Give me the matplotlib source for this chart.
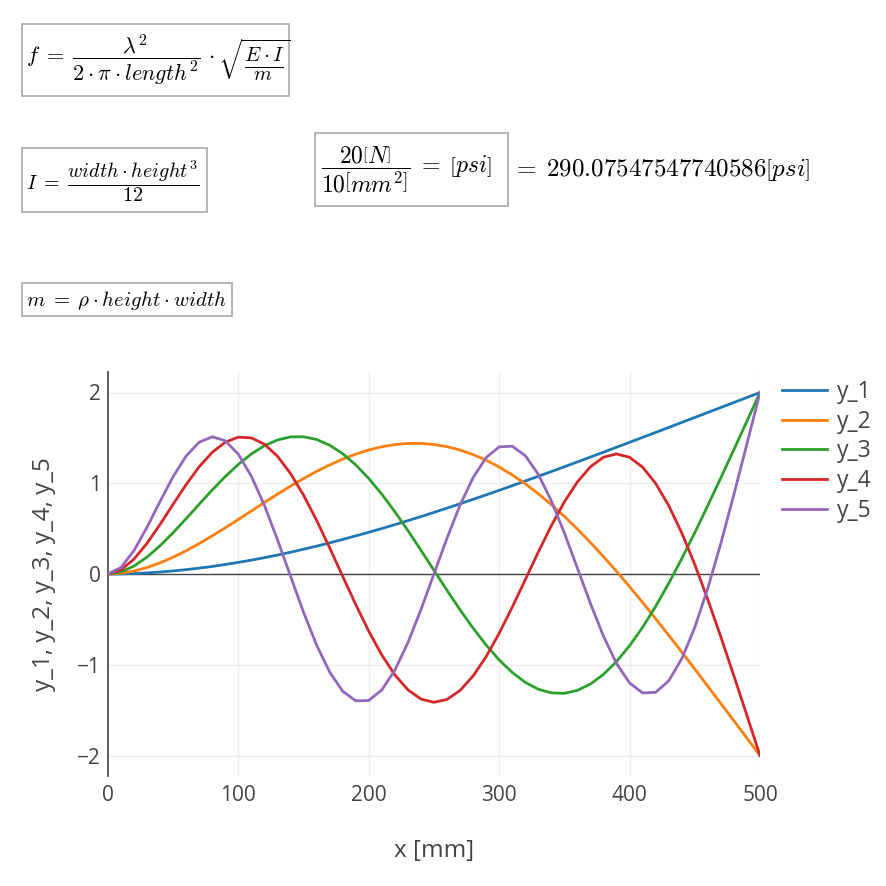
import matplotlib
matplotlib.use("Agg")
import matplotlib.pyplot as plt
from matplotlib import patches

# beam mode shapes, sampled every 10 mm
x_mm = list(range(0, 510, 10))

y_1 = [0.000, 0.001, 0.006, 0.012, 0.022, 0.034, 0.048, 0.065, 0.083, 0.105,
       0.128, 0.153, 0.180, 0.209, 0.240, 0.273, 0.307, 0.343, 0.381, 0.420,
       0.460, 0.501, 0.544, 0.588, 0.633, 0.679, 0.726, 0.774, 0.823, 0.872,
       0.922, 0.973, 1.025, 1.077, 1.129, 1.182, 1.235, 1.289, 1.342, 1.397,
       1.451, 1.506, 1.560, 1.615, 1.670, 1.725, 1.780, 1.835, 1.890, 1.945,
       2.000]
y_2 = [0.000, 0.009, 0.033, 0.072, 0.123, 0.185, 0.257, 0.336, 0.421, 0.510,
       0.602, 0.695, 0.789, 0.880, 0.968, 1.052, 1.131, 1.202, 1.266, 1.321,
       1.367, 1.402, 1.426, 1.439, 1.439, 1.427, 1.403, 1.366, 1.316, 1.254,
       1.179, 1.092, 0.994, 0.884, 0.764, 0.634, 0.495, 0.347, 0.191, 0.029,
       -0.140, -0.314, -0.493, -0.675, -0.860, -1.047, -1.237, -1.427, -1.618, -1.809,
       -2.000]
y_3 = [0.000, 0.023, 0.088, 0.187, 0.312, 0.456, 0.611, 0.770, 0.927, 1.075,
       1.209, 1.323, 1.414, 1.477, 1.511, 1.512, 1.482, 1.419, 1.326, 1.202,
       1.052, 0.879, 0.686, 0.479, 0.262, 0.040, -0.181, -0.395, -0.597, -0.783,
       -0.947, -1.085, -1.194, -1.270, -1.310, -1.315, -1.282, -1.212, -1.106, -0.964,
       -0.790, -0.587, -0.356, -0.103, 0.169, 0.456, 0.755, 1.061, 1.372, 1.685,
       2.000]
y_4 = [0.000, 0.045, 0.165, 0.340, 0.548, 0.770, 0.987, 1.183, 1.342, 1.453,
       1.508, 1.500, 1.430, 1.297, 1.107, 0.868, 0.591, 0.288, -0.026, -0.337,
       -0.631, -0.893, -1.112, -1.276, -1.378, -1.414, -1.382, -1.283, -1.123, -0.910,
       -0.653, -0.366, -0.063, 0.242, 0.533, 0.795, 1.015, 1.182, 1.287, 1.323,
       1.286, 1.177, 0.998, 0.754, 0.453, 0.104, -0.282, -0.694, -1.123, -1.560,
       -2.000]
y_5 = [0.000, 0.072, 0.260, 0.517, 0.802, 1.074, 1.301, 1.453, 1.512, 1.468,
       1.319, 1.076, 0.754, 0.377, -0.025, -0.423, -0.784, -1.081, -1.292, -1.398,
       -1.393, -1.277, -1.059, -0.756, -0.393, 0.002, 0.396, 0.760, 1.063, 1.283,
       1.401, 1.408, 1.304, 1.098, 0.806, 0.451, 0.064, -0.326, -0.686, -0.986,
       -1.201, -1.311, -1.304, -1.177, -0.934, -0.588, -0.156, 0.339, 0.877, 1.435,
       2.000]

series = [y_1, y_2, y_3, y_4, y_5]
names = ["y_1", "y_2", "y_3", "y_4", "y_5"]
colors = ["#1f77b4", "#ff7f0e", "#2ca02c", "#d62728", "#9467bd"]

x_ticks = [0, 100, 200, 300, 400, 500]
y_ticks = [-2, -1, 0, 1, 2]
y_tick_labels = ["\u22122", "\u22121", "0", "1", "2"]

formula_f = r"$f\;=\;\dfrac{\lambda^2}{2\cdot\pi\cdot length^2}\,\cdot$"
formula_root = r"$\sqrt{\frac{E\cdot I}{m}}$"
formula_I = r"$I\;=\;\dfrac{width\cdot height^3}{12}$"
formula_psi = r"$\dfrac{20\left[N\right]}{10\left[mm^2\right]}\;=\;\left[psi\right]$"
result_psi = r"$=\;290.07547547740586\left[psi\right]$"
formula_m = r"$m\;=\;\rho\cdot height\cdot width$"

plt.rcParams["mathtext.fontset"] = "cm"
plt.rcParams["font.family"] = ["Open Sans", "DejaVu Sans"]

W, H = 886, 886
fig = plt.figure(figsize=(W / 100, H / 100), dpi=100)


def px(x, y):
    return x / W, 1 - y / H


def boxed(x0, y0, x1, y1):
    r = patches.Rectangle(px(x0, y1), (x1 - x0) / W, (y1 - y0) / H,
                          transform=fig.transFigure, fc="white",
                          ec="#b4b4b4", lw=1.4)
    fig.patches.append(r)


boxed(22, 24, 289, 96)
boxed(22, 148, 207, 212)
boxed(315, 133, 508, 206)
boxed(22, 283, 232, 316)

t_f = fig.text(*px(26, 60), formula_f, fontsize=16, va="center", ha="left")
renderer = fig.canvas.get_renderer()
f_right = t_f.get_window_extent(renderer).x1
fig.text(*px(f_right + 3, 60), formula_root, fontsize=21, va="center", ha="left")

fig.text(*px(26, 181), formula_I, fontsize=14.5, va="center", ha="left")
fig.text(*px(321, 170), formula_psi, fontsize=17, va="center", ha="left")
fig.text(*px(512, 170), result_psi, fontsize=18, va="center", ha="left")
fig.text(*px(26, 300), formula_m, fontsize=15, va="center", ha="left")

# plot area
y_lo, y_hi = -2.23, 2.23
top_px = 574 - y_hi * 90.75
bot_px = 574 - y_lo * 90.75
ax = fig.add_axes([108 / W, 1 - bot_px / H, (760 - 108) / W, (bot_px - top_px) / H])

for ys, name, c in zip(series, names, colors):
    ax.plot(x_mm, ys, color=c, lw=2.0, label=name, solid_joinstyle="round", zorder=3)

ax.set_xlim(0, 500)
ax.set_ylim(y_lo, y_hi)
ax.axhline(0, color="#444444", lw=1.0, zorder=2)

ax.set_xticks(x_ticks)
ax.set_yticks(y_ticks)
ax.set_yticklabels(y_tick_labels)
ax.grid(True, color="#eeeeee", lw=1.0, zorder=0)
ax.set_axisbelow(True)
ax.tick_params(length=0, labelsize=15, labelcolor="#444444")
ax.tick_params(axis="y", pad=5)
ax.tick_params(axis="x", pad=6)

for s in ["top", "right", "bottom"]:
    ax.spines[s].set_visible(False)
ax.spines["left"].set_color("#444444")
ax.spines["left"].set_linewidth(1.2)

ax.set_xlabel("x [mm]", fontsize=17.5, color="#444444", labelpad=24)
ax.set_ylabel("y_1, y_2, y_3, y_4, y_5", fontsize=17.5, color="#444444", labelpad=15)

ax.legend(loc="upper left",
          bbox_to_anchor=((782 - 108) / (760 - 108), 1.0 - (380 - top_px) / (bot_px - top_px)),
          frameon=False, borderaxespad=0, borderpad=0, handlelength=1.95,
          handletextpad=0.45, labelspacing=0.25, fontsize=16.5, labelcolor="#444444")

fig.savefig("out.png", dpi=100, facecolor="white")
